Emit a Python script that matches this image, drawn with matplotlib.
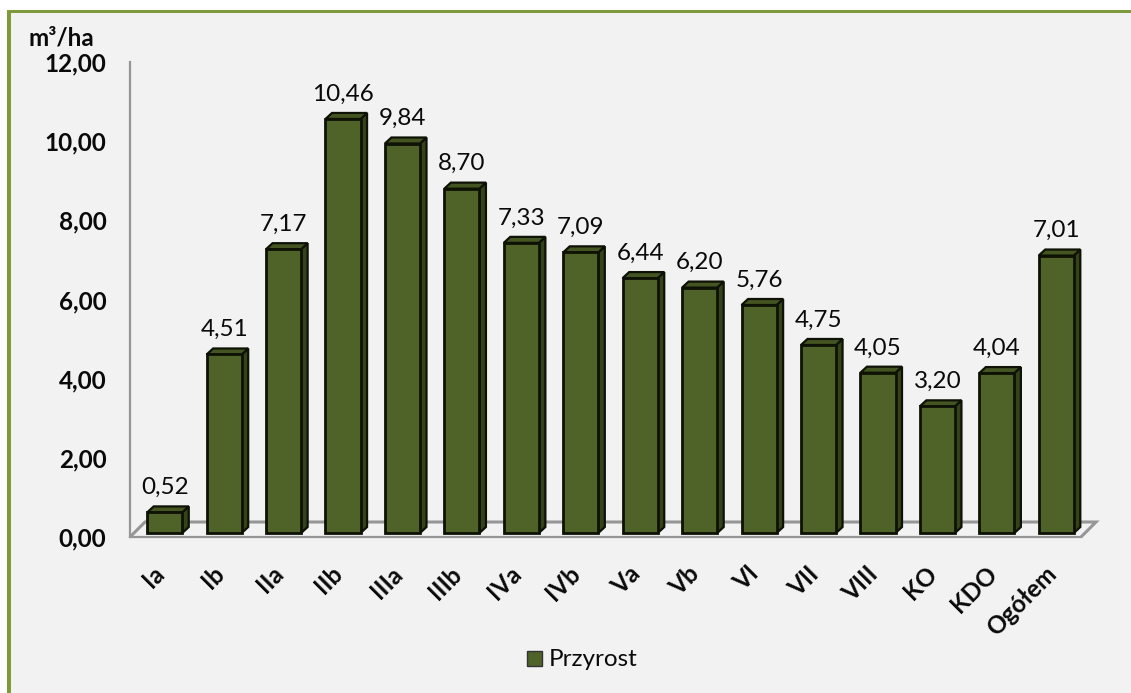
import matplotlib
matplotlib.use("Agg")
import matplotlib.pyplot as plt
from matplotlib.patches import Polygon, Rectangle
from matplotlib.transforms import Affine2D

categories = ["Ia", "Ib", "IIa", "IIb", "IIIa", "IIIb", "IVa", "IVb",
              "Va", "Vb", "VI", "VII", "VIII", "KO", "KDO", "Ogółem"]
values = [0.52, 4.51, 7.17, 10.46, 9.84, 8.70, 7.33, 7.09,
          6.44, 6.20, 5.76, 4.75, 4.05, 3.20, 4.04, 7.01]
y_ticks = [0, 2, 4, 6, 8, 10, 12]

W, H = 1131, 693
FRONT = "#4f6228"
SIDE = "#35431a"
TOP = "#445522"
EDGE = "#0e1205"
GREY = "#969696"
FRAME = "#7f9a3c"
INK = "#0a0a0a"

plt.rcParams["font.family"] = ["Lato", "DejaVu Sans"]


def main():
    fig = plt.figure(figsize=(W / 100, H / 100), dpi=100, facecolor="white")

    # panel and its green frame (only left and top are in the picture)
    for x, y, w, h, col in [(9, 0, W - 9, H - 12, "#f2f2f2"),
                            (7, 0, 4, H - 10, FRAME),
                            (7, H - 13, W - 7, 3, FRAME)]:
        fig.add_artist(Rectangle((x / W, y / H), w / W, h / H, transform=fig.transFigure,
                                 facecolor=col, edgecolor="none", zorder=-5))

    # axes box = front edge of the 3D floor and the y axis
    left, right, bottom, top = 130, 1081, 537, 62
    ax = fig.add_axes([left / W, 1 - bottom / H, (right - left) / W, (bottom - top) / H])
    ax.set_facecolor("none")
    ax.set_xlim(-0.5, len(categories) - 0.5)
    ax.set_ylim(0, 12)
    for name in ("top", "right"):
        ax.spines[name].set_visible(False)
    for name in ("left", "bottom"):
        ax.spines[name].set_color(GREY)
        ax.spines[name].set_linewidth(1.6)

    ax.set_yticks(y_ticks)
    ax.set_yticklabels([f"{v:.2f}".replace(".", ",") for v in y_ticks],
                       fontsize=17.5, fontweight="bold", color=INK)
    ax.set_xticks(range(len(categories)))
    ax.set_xticklabels(categories, rotation=45, ha="right", rotation_mode="anchor",
                       fontsize=17.5, fontweight="bold", color=INK)
    ax.tick_params(axis="both", length=0)
    ax.tick_params(axis="y", pad=17)
    ax.tick_params(axis="x", pad=18)
    for label in ax.get_xticklabels():
        label.set_transform(label.get_transform() + Affine2D().translate(-7, 0))

    # floor: back edge and side edges, shifted in pixels from the front edge
    floor = 15
    (px0, py0), (px1, py1) = ax.transData.transform([(-0.5, 0), (len(categories) - 0.5, 0)])
    ax.add_patch(Polygon([(px0, py0), (px0 + floor, py0 + floor),
                          (px1 + floor, py1 + floor), (px1, py1)],
                         closed=False, fill=False, edgecolor=GREY, linewidth=2.2,
                         transform=None, clip_on=False, zorder=1))

    # bars: front face through bar(), side and top added from its pixel corners
    to_px = ax.transData + Affine2D().translate(5, 4)
    bars = ax.bar(range(len(values)), values, width=0.59, color=FRONT, edgecolor=EDGE,
                  linewidth=2.0, zorder=3, clip_on=False, transform=to_px)
    dx, dy = 6.5, 6
    for bar, v in zip(bars, values):
        (a, b), (c, d) = to_px.transform([(bar.get_x(), 0), (bar.get_x() + bar.get_width(), v)])
        ax.add_patch(Polygon([(c, b), (c + dx, b + dy), (c + dx, d + dy), (c, d)],
                             facecolor=SIDE, edgecolor=EDGE, linewidth=1.6,
                             transform=None, clip_on=False, zorder=2))
        ax.add_patch(Polygon([(a, d), (a + dx, d + dy), (c + dx, d + dy), (c, d)],
                             facecolor=TOP, edgecolor=EDGE, linewidth=1.6,
                             transform=None, clip_on=False, zorder=2))
        ax.annotate(f"{v:.2f}".replace(".", ","), xy=((a + c) / 2, d + dy),
                    xycoords="figure pixels", xytext=(0, 6), textcoords="offset points",
                    ha="center", va="bottom", fontsize=17.5, color=INK)

    fig.text(29 / W, 1 - 38 / H, "m³/ha", fontsize=17.5, fontweight="bold",
             color=INK, va="center", ha="left")

    # legend
    fig.add_artist(Rectangle((526.5 / W, 1 - 666 / H), 15 / W, 15 / H, transform=fig.transFigure,
                             facecolor=FRONT, edgecolor="#333333", linewidth=1.0))
    fig.text(549 / W, 1 - 659 / H, "Przyrost", fontsize=17.5, color=INK,
             va="center", ha="left")

    fig.savefig("out.png", dpi=100, facecolor=fig.get_facecolor())
    plt.close(fig)


if __name__ == "__main__":
    main()
